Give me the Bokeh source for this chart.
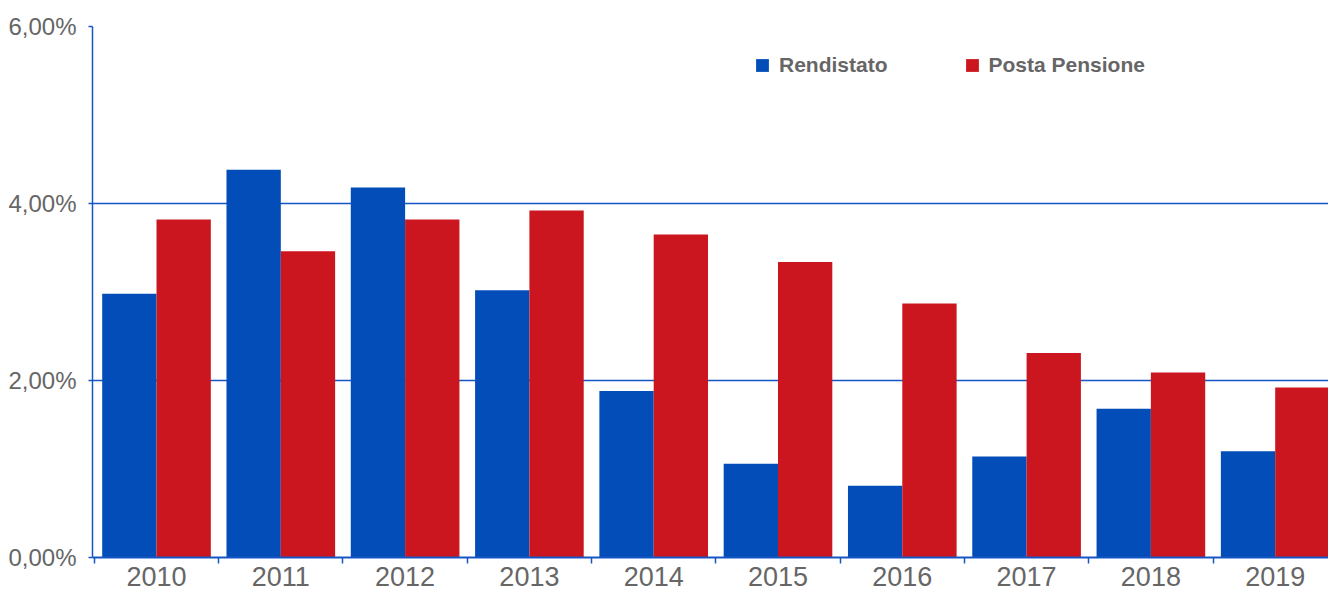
from bokeh.plotting import figure
from bokeh.models import (ColumnDataSource, FixedTicker, CustomJSTickFormatter,
                          Legend, LegendItem, Range1d)
from bokeh.transform import dodge
from bokeh.embed import file_html
from bokeh.resources import INLINE

years = ["2010", "2011", "2012", "2013", "2014", "2015", "2016", "2017", "2018", "2019"]
rendistato = [2.98, 4.38, 4.18, 3.02, 1.88, 1.06, 0.81, 1.14, 1.68, 1.20]
posta_pensione = [3.82, 3.46, 3.82, 3.92, 3.65, 3.34, 2.87, 2.31, 2.09, 1.92]
y_ticks = [0, 2, 4, 6]

BLUE = "#034DB8"
RED = "#CC161F"
GRID = "#1656C4"
TEXT = "#666666"
FONT = "Liberation Sans"

pos = list(range(len(years)))
src = ColumnDataSource(dict(x=pos, year=years, r=rendistato, p=posta_pensione))

p = figure(width=1328, height=591, output_backend="svg", toolbar_location=None,
           x_range=Range1d(-0.515, 9.429), y_range=Range1d(0, 6),
           min_border_left=92, min_border_top=26, min_border_right=0, min_border_bottom=34)
p.outline_line_color = None
p.background_fill_color = "white"
p.border_fill_color = "white"

bw = 0.437
r1 = p.vbar(x=dodge("x", -bw / 2, range=p.x_range), top="r", width=bw, bottom=0,
            source=src, fill_color=BLUE, line_color=None)
r2 = p.vbar(x=dodge("x", bw / 2, range=p.x_range), top="p", width=bw, bottom=0,
            source=src, fill_color=RED, line_color=None)

# x axis: labels at category centres, small ticks at boundaries
boundaries = [i - 0.5 for i in pos] + [len(pos) - 0.5]
p.xaxis.ticker = FixedTicker(ticks=pos, minor_ticks=boundaries)
p.xaxis.major_label_overrides = {i: y for i, y in zip(pos, years)}
p.xaxis.major_tick_out = 0
p.xaxis.major_tick_in = 0
p.xaxis.minor_tick_out = 6
p.xaxis.minor_tick_in = 0
p.xaxis.minor_tick_line_color = GRID
p.xaxis.minor_tick_line_width = 1.5
p.xaxis.axis_line_color = GRID
p.xaxis.axis_line_width = 2
p.xaxis.major_label_text_font = FONT
p.xaxis.major_label_text_font_size = "27px"
p.xaxis.major_label_text_color = TEXT
p.xaxis.major_label_standoff = 3
p.xaxis.major_label_text_line_height = 0.9

# y axis
p.yaxis.ticker = FixedTicker(ticks=y_ticks)
p.yaxis.formatter = CustomJSTickFormatter(code="return tick.toFixed(2).replace('.', ',') + '%';")
p.yaxis.major_tick_out = 4
p.yaxis.major_tick_in = 0
p.yaxis.minor_tick_out = 0
p.yaxis.minor_tick_in = 0
p.yaxis.major_tick_line_color = GRID
p.yaxis.major_tick_line_width = 1.5
p.yaxis.axis_line_color = GRID
p.yaxis.axis_line_width = 1.5
p.yaxis.major_label_text_font = FONT
p.yaxis.major_label_text_font_size = "24px"
p.yaxis.major_label_text_color = TEXT
p.yaxis.major_label_standoff = 12

p.xgrid.visible = False
p.ygrid.ticker = FixedTicker(ticks=y_ticks)
p.ygrid.grid_line_color = GRID
p.ygrid.grid_line_width = 1.5

legend = Legend(items=[LegendItem(label="Rendistato", renderers=[r1]),
                       LegendItem(label="Posta Pensione", renderers=[r2])],
                orientation="horizontal", location=(662, 480),
                glyph_width=16, glyph_height=16, label_standoff=9, spacing=76,
                padding=0, margin=0, border_line_alpha=0, background_fill_alpha=0,
                label_text_font=FONT, label_text_font_size="21px",
                label_text_font_style="bold", label_text_color=TEXT,
                label_height=21)
p.add_layout(legend)

open("out.html", "w").write(file_html(p, INLINE))
